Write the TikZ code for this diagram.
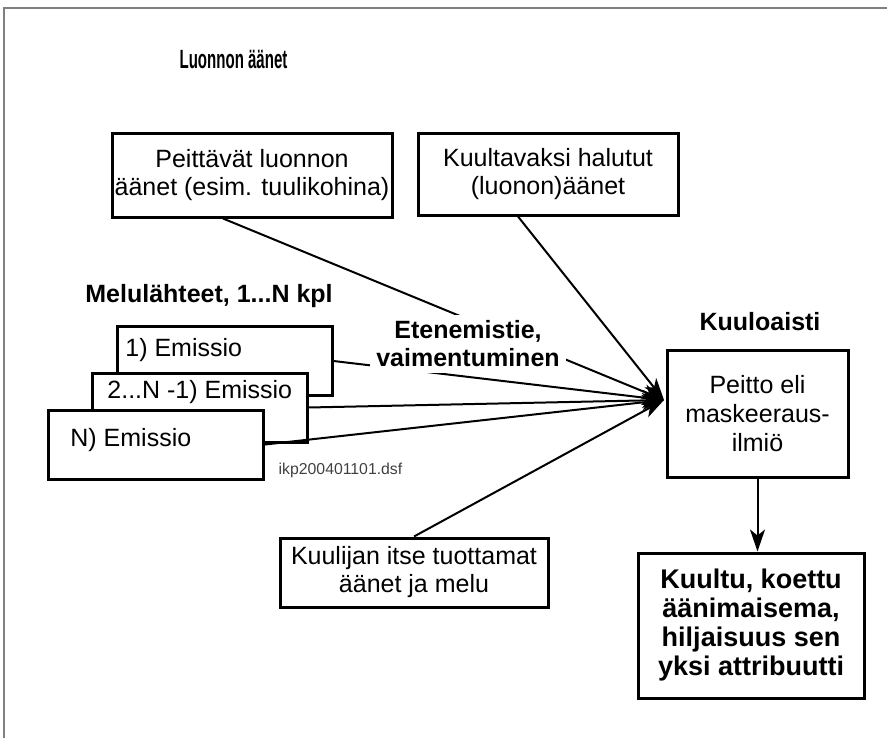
\documentclass[tikz,border=0pt]{standalone}
\usepackage{fontspec}
\setmainfont{Liberation Sans}
\usepackage{graphicx}
\usetikzlibrary{arrows.meta}

\begin{document}
\begin{tikzpicture}[x=0.5pt, y=-0.5pt,
    box/.style={draw, line width=1.5pt, fill=white, inner sep=0, align=center, font=\fontsize{12.5}{14}\selectfont},
    emis/.style={draw, line width=1.5pt, fill=white, inner sep=0, minimum width=107.5pt, minimum height=34.5pt},
    etext/.style={anchor=west, inner sep=0, font=\fontsize{12.5}{14}\selectfont},
    lbl/.style={inner sep=1pt, font=\fontsize{12.5}{14}\bfseries\selectfont},
    conn/.style={line width=1pt, -{Stealth[length=11pt, width=7.5pt, inset=3pt]}}]
      \useasboundingbox (0,0) rectangle (887,738);
      \draw[gray, line width=0.75pt] (4,738) -- (4,8) -- (887,8);
      \node (title) at (233.5,59) {\scalebox{0.57}[1]{\fontsize{13.2}{15}\bfseries\selectfont Luonnon äänet}};
      \node[box, minimum width=140pt, minimum height=42pt] (pA) at (252,175) {Peittävät luonnon\\äänet (esim. tuulikohina)};
      \node[box, minimum width=130pt, minimum height=41pt] (pB) at (548,174) {Kuultavaksi halutut\\(luonon)äänet};
      \node[lbl] (src) at (209,296) {Melulähteet, 1...N kpl};
      \node[lbl] (ear) at (760,322) {Kuuloaisti};
      \node[emis] (e1) at (224.5,361) {};
      \node[etext] (t1) at (125,350) {1) Emissio};
      \node[emis] (e2) at (199.5,407.5) {};
      \node[etext] (t2) at (107,392) {2...N -1) Emissio};
      \node[emis] (e3) at (156,444.5) {};
      \node[etext] (t3) at (70,440) {N) Emissio};
      \node[font=\fontsize{7.9}{9}\selectfont, text=black!75, inner sep=0] (fname) at (340.5,470) {ikp200401101.dsf};
      \node[box, minimum width=90.5pt, minimum height=63.5pt, font=\fontsize{12.5}{14.5}\selectfont] (mask) at (757.5,413.5) {Peitto eli\\maskeeraus-\\ilmiö};
      \node[box, minimum width=113pt, minimum height=72.5pt, font=\fontsize{13.5}{14.5}\bfseries\selectfont] (res) at (751,625.5) {Kuultu, koettu\\äänimaisema,\\hiljaisuus sen\\yksi attribuutti};
      \node[box, minimum width=134pt, minimum height=34.5pt] (pE) at (414,572.5) {Kuulijan itse tuottamat\\äänet ja melu};
      \coordinate (hub) at (664,400);
      \draw[conn] ([xshift=-14.5pt]pA.south) -- (hub);
      \draw[conn] ([xshift=-15pt]pB.south) -- (hub);
      \draw[conn] (e1.east) -- (hub);
      \draw[conn] (e2.east) -- (hub);
      \draw[conn] (e3.east) -- (hub);
      \draw[conn] (pE.north) -- (hub);
      \draw[conn] (mask.south) -- (mask.south |- res.north);
      \node[lbl, fill=white, inner sep=3pt, align=center] (prop) at (468,344) {Etenemistie,\\vaimentuminen};
    \end{tikzpicture}
\end{document}
